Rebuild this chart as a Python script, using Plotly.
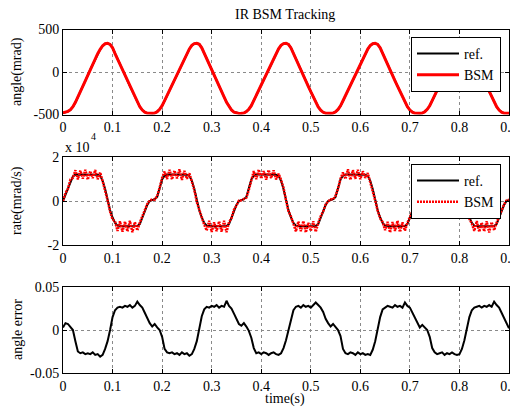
import plotly.graph_objects as go

# ---- time grid (s) ----
time_s = [round(0.005 * i, 3) for i in range(181)]

# ---- angle (mrad) ----
angle_ref = [
    -482, -476, -464, -446, -410, -358, -298, -236, -172, -106, -40, 26, 90, 154, 214, 266, 308, 331, 337,
    326, 286, 218, 154, 90, 26, -38, -102, -166, -230, -294, -355, -408, -447, -472, -483, -487, -487,
    -485, -468, -440, -398, -338, -276, -214, -152, -90, -28, 34, 96, 158, 218, 270, 312, 333, 337,
    327, 285, 219, 155, 91, 27, -37, -101, -165, -229, -293, -354, -407, -446, -471, -482, -486, -487,
    -484, -467, -439, -397, -337, -275, -213, -151, -89, -27, 35, 97, 159, 219, 271, 313, 334, 338,
    325, 284, 217, 153, 89, 25, -39, -103, -167, -231, -295, -356, -409, -448, -473, -484, -488, -487,
    -485, -469, -441, -399, -339, -277, -215, -153, -91, -29, 33, 95, 157, 217, 269, 311, 332, 336,
    326, 286, 218, 154, 90, 26, -38, -102, -166, -230, -294, -355, -408, -447, -472, -483, -487, -487,
    -485, -468, -440, -398, -338, -276, -214, -152, -90, -28, 34, 96, 158, 218, 270, 312, 333, 337,
    326, 286, 218, 154, 90, 26, -38, -102, -166, -230, -294, -355, -408, -447, -472, -483, -486, -485,
]
angle_bsm = [
    -481, -475, -463, -444, -409, -356, -297, -235, -170, -105, -39, 27, 91, 155, 215, 267, 309, 332, 337,
    325, 285, 217, 153, 89, 25, -39, -103, -167, -231, -295, -356, -409, -448, -473, -484, -487, -486,
    -484, -467, -439, -396, -336, -275, -213, -151, -89, -27, 35, 97, 159, 219, 271, 313, 334, 338,
    326, 284, 218, 154, 90, 26, -38, -102, -166, -230, -294, -355, -408, -447, -472, -483, -487, -486,
    -483, -466, -438, -396, -336, -274, -212, -150, -88, -26, 36, 98, 160, 220, 272, 314, 334, 338,
    324, 283, 216, 152, 88, 24, -40, -104, -168, -232, -296, -357, -410, -449, -474, -485, -488, -486,
    -484, -468, -440, -398, -338, -276, -214, -152, -90, -28, 34, 96, 158, 218, 270, 312, 333, 337,
    325, 285, 217, 153, 89, 25, -39, -103, -167, -231, -295, -356, -409, -448, -473, -484, -487, -486,
    -484, -467, -439, -397, -337, -275, -213, -151, -89, -27, 35, 97, 159, 219, 271, 313, 334, 338,
    325, 285, 217, 153, 89, 25, -39, -103, -167, -231, -295, -356, -409, -448, -473, -484, -486, -484,
]

# ---- rate (x 10^4 mrad/s) ----
rate_ref = [
    0.00, 0.30, 0.60, 0.90, 1.12, 1.20, 1.20, 1.20, 1.20, 1.20, 1.20, 1.20, 1.20, 1.20, 1.19, 1.14, 0.92, 0.55, 0.00,
    -0.42, -0.75, -1.00, -1.12, -1.15, -1.15, -1.15, -1.15, -1.15, -1.15, -1.15, -1.14, -1.05, -0.75, -0.45, -0.18, 0.00, 0.05,
    0.08, 0.18, 0.55, 0.98, 1.15, 1.20, 1.20, 1.20, 1.20, 1.20, 1.20, 1.20, 1.20, 1.19, 1.14, 0.92, 0.55, 0.00,
    -0.42, -0.75, -1.00, -1.12, -1.15, -1.15, -1.15, -1.15, -1.15, -1.15, -1.15, -1.14, -1.05, -0.75, -0.45, -0.18, 0.00, 0.05,
    0.08, 0.18, 0.55, 0.98, 1.15, 1.20, 1.20, 1.20, 1.20, 1.20, 1.20, 1.20, 1.20, 1.19, 1.14, 0.92, 0.55, 0.00,
    -0.42, -0.75, -1.00, -1.12, -1.15, -1.15, -1.15, -1.15, -1.15, -1.15, -1.15, -1.14, -1.05, -0.75, -0.45, -0.18, 0.00, 0.05,
    0.08, 0.18, 0.55, 0.98, 1.15, 1.20, 1.20, 1.20, 1.20, 1.20, 1.20, 1.20, 1.20, 1.19, 1.14, 0.92, 0.55, 0.00,
    -0.42, -0.75, -1.00, -1.12, -1.15, -1.15, -1.15, -1.15, -1.15, -1.15, -1.15, -1.14, -1.05, -0.75, -0.45, -0.18, 0.00, 0.05,
    0.08, 0.18, 0.55, 0.98, 1.15, 1.20, 1.20, 1.20, 1.20, 1.20, 1.20, 1.20, 1.20, 1.19, 1.14, 0.92, 0.55, 0.00,
    -0.42, -0.75, -1.00, -1.12, -1.15, -1.15, -1.15, -1.15, -1.15, -1.15, -1.15, -1.14, -1.05, -0.75, -0.45, -0.18, 0.00, 0.05,
]
rate_bsm = [
    0.00, 0.36, 0.56, 0.98, 1.05, 1.40, 0.98, 1.38, 1.02, 1.42, 0.97, 1.36, 1.04, 1.41, 0.99, 1.30, 0.90, 0.50, 0.03,
    -0.48, -0.84, -0.92, -1.36, -0.92, -1.40, -0.94, -1.38, -0.90, -1.42, -0.96, -1.34, -0.98, -0.70, -0.50, -0.14, 0.03, 0.07,
    0.06, 0.22, 0.60, 1.05, 1.34, 1.00, 1.42, 0.98, 1.38, 1.03, 1.44, 0.96, 1.37, 1.01, 1.26, 0.86, 0.50, -0.05,
    -0.38, -0.80, -1.08, -1.34, -0.90, -1.41, -0.97, -1.37, -0.92, -1.40, -0.90, -1.42, -0.96, -0.78, -0.40, -0.21, 0.02, 0.03,
    0.10, 0.15, 0.50, 0.94, 1.36, 0.99, 1.43, 1.02, 1.36, 0.97, 1.41, 1.04, 1.39, 0.98, 1.24, 0.97, 0.60, 0.03,
    -0.47, -0.70, -1.06, -1.38, -0.93, -1.37, -0.91, -1.43, -0.99, -1.36, -0.92, -1.40, -1.00, -0.69, -0.48, -0.15, -0.02, 0.08,
    0.07, 0.24, 0.57, 1.01, 1.30, 1.00, 1.44, 0.96, 1.40, 1.01, 1.42, 0.99, 1.35, 1.05, 1.27, 0.88, 0.48, 0.02,
    -0.44, -0.79, -0.96, -1.33, -0.95, -1.43, -0.96, -1.36, -0.90, -1.41, -0.97, -1.35, -0.99, -0.75, -0.43, -0.20, 0.04, 0.05,
    0.09, 0.16, 0.53, 1.02, 1.35, 0.99, 1.40, 1.00, 1.43, 0.97, 1.38, 1.04, 1.42, 0.98, 1.25, 0.94, 0.57, -0.03,
    -0.40, -0.81, -1.03, -1.36, -0.91, -1.40, -0.98, -1.38, -0.92, -1.43, -0.96, -1.33, -0.99, -0.72, -0.47, -0.16, 0.02, 0.06,
]

# ---- angle error ----
angle_err = [
    0.003, 0.008, 0.007, 0.004, 0.000, -0.013, -0.025, -0.027, -0.026, -0.028, -0.027, -0.028, -0.026, -0.029, -0.028, -0.031, -0.029, -0.022, -0.013,
    0.000, 0.015, 0.023, 0.026, 0.027, 0.026, 0.028, 0.027, 0.029, 0.026, 0.028, 0.033, 0.029, 0.026, 0.020, 0.014, 0.008, 0.004,
    0.007, 0.003, 0.000, -0.008, -0.022, -0.026, -0.027, -0.026, -0.028, -0.027, -0.029, -0.026, -0.028, -0.027, -0.030, -0.028, -0.022, -0.013,
    0.001, 0.016, 0.024, 0.027, 0.026, 0.028, 0.027, 0.029, 0.026, 0.028, 0.027, 0.034, 0.028, 0.025, 0.019, 0.013, 0.007, 0.005,
    0.008, 0.004, -0.001, -0.009, -0.021, -0.027, -0.026, -0.028, -0.026, -0.027, -0.029, -0.027, -0.026, -0.028, -0.029, -0.027, -0.021, -0.012,
    0.000, 0.014, 0.023, 0.027, 0.028, 0.026, 0.029, 0.027, 0.028, 0.026, 0.029, 0.032, 0.029, 0.026, 0.021, 0.013, 0.008, 0.004,
    0.007, 0.004, 0.000, -0.007, -0.022, -0.027, -0.028, -0.026, -0.027, -0.029, -0.026, -0.028, -0.027, -0.029, -0.028, -0.029, -0.023, -0.013,
    0.001, 0.015, 0.024, 0.026, 0.028, 0.027, 0.026, 0.029, 0.027, 0.028, 0.026, 0.032, 0.028, 0.026, 0.020, 0.014, 0.008, 0.003,
    0.006, 0.003, 0.000, -0.008, -0.021, -0.026, -0.028, -0.027, -0.026, -0.029, -0.027, -0.028, -0.026, -0.028, -0.029, -0.028, -0.022, -0.012,
    0.000, 0.015, 0.023, 0.026, 0.027, 0.028, 0.026, 0.028, 0.027, 0.029, 0.027, 0.033, 0.029, 0.026, 0.020, 0.014, 0.008, 0.002,
]

# ---- tick labels ----
x_ticks = [0, 0.1, 0.2, 0.3, 0.4, 0.5, 0.6, 0.7, 0.8, 0.9]
x_ticklabels = ["0", "0.1", "0.2", "0.3", "0.4", "0.5", "0.6", "0.7", "0.8", "0.9"]
y1_ticks, y1_labels = [-500, 0, 500], ["-500", "0", "500"]
y2_ticks, y2_labels = [-2, 0, 2], ["-2", "0", "2"]
y3_ticks, y3_labels = [-0.05, 0, 0.05], ["-0.05", "0", "0.05"]

FONT = "Liberation Serif, Times New Roman, serif"
# page body has an 8px margin; the figure starts at (8, 8) and reaches the window's right edge
OFF = 8
W, H = 518 - OFF, 415 - 2 * OFF


def fx(px):
    return (px - OFF) / W


def fy(py):
    return 1 - (py - OFF) / H


fig = go.Figure()
fig.add_trace(go.Scatter(x=time_s, y=angle_ref, name="ref.", mode="lines",
                         line=dict(color="black", width=2), xaxis="x", yaxis="y", legend="legend"))
fig.add_trace(go.Scatter(x=time_s, y=angle_bsm, name="BSM", mode="lines",
                         line=dict(color="#ff0000", width=3), xaxis="x", yaxis="y", legend="legend"))
fig.add_trace(go.Scatter(x=time_s, y=rate_ref, name="ref.", mode="lines",
                         line=dict(color="black", width=2), xaxis="x2", yaxis="y2", legend="legend2"))
fig.add_trace(go.Scatter(x=time_s, y=rate_bsm, name="BSM", mode="lines",
                         line=dict(color="#ff0000", width=2.5, dash="2px,1px"),
                         xaxis="x2", yaxis="y2", legend="legend2"))
fig.add_trace(go.Scatter(x=time_s, y=angle_err, name="error", mode="lines", showlegend=False,
                         line=dict(color="black", width=2), xaxis="x3", yaxis="y3"))

xd = [fx(63), fx(509)]


def ydom(top, bot):
    return [fy(bot), fy(top)]


common_axis = dict(showline=True, linecolor="black", linewidth=1, mirror="ticks",
                   ticks="inside", ticklen=4, tickcolor="black", automargin=False,
                   ticklabeloverflow="allow",
                   showgrid=True, gridcolor="#8a8a8a", griddash="dot", gridwidth=1,
                   zeroline=False, tickfont=dict(family=FONT, size=14, color="black"))

xaxis_common = dict(common_axis, range=[0, 0.9], tickvals=x_ticks, ticktext=x_ticklabels, domain=xd)

fig.update_layout(
    width=W, height=H,
    margin=dict(l=0, r=0, t=0, b=0),
    paper_bgcolor="white", plot_bgcolor="white",
    font=dict(family=FONT, size=14, color="black"),
    showlegend=True,
    xaxis=dict(xaxis_common, anchor="y"),
    yaxis=dict(common_axis, range=[-500, 500], tickvals=y1_ticks, ticktext=y1_labels,
               domain=ydom(29.5, 114.5), anchor="x"),
    xaxis2=dict(xaxis_common, anchor="y2"),
    yaxis2=dict(common_axis, range=[-2, 2], tickvals=y2_ticks, ticktext=y2_labels,
                domain=ydom(157, 245), anchor="x2"),
    xaxis3=dict(xaxis_common, anchor="y3"),
    yaxis3=dict(common_axis, range=[-0.05, 0.05], tickvals=y3_ticks, ticktext=y3_labels,
                domain=ydom(287, 373), anchor="x3"),
    legend=dict(x=fx(411), y=fy(37), xanchor="left", yanchor="top",
                bgcolor="white", bordercolor="black", borderwidth=1,
                font=dict(family=FONT, size=14), itemwidth=42, tracegroupgap=0),
    legend2=dict(x=fx(411), y=fy(164), xanchor="left", yanchor="top",
                 bgcolor="white", bordercolor="black", borderwidth=1,
                 font=dict(family=FONT, size=14), itemwidth=42, tracegroupgap=0),
)

ann = [
    dict(text="IR BSM Tracking", x=fx(285), y=fy(14), xanchor="center", yanchor="middle",
         font=dict(size=14)),
    dict(text="angle(mrad)", x=fx(17), y=fy(72), textangle=-90, xanchor="center", yanchor="middle",
         font=dict(size=14)),
    dict(text="rate(mrad/s)", x=fx(17), y=fy(201), textangle=-90, xanchor="center", yanchor="middle",
         font=dict(size=14)),
    dict(text="angle error", x=fx(17), y=fy(330), textangle=-90, xanchor="center", yanchor="middle",
         font=dict(size=14)),
    dict(text="time(s)", x=fx(285), y=fy(399), xanchor="center", yanchor="middle",
         font=dict(size=14)),
    dict(text="x 10", x=fx(63), y=fy(147.5), xanchor="left", yanchor="middle",
         font=dict(size=14)),
    dict(text="4", x=fx(89), y=fy(137), xanchor="left", yanchor="middle",
         font=dict(size=10)),
]
for a in ann:
    a.update(xref="paper", yref="paper", showarrow=False)
fig.update_layout(annotations=ann)

fig.write_html("out.html")
